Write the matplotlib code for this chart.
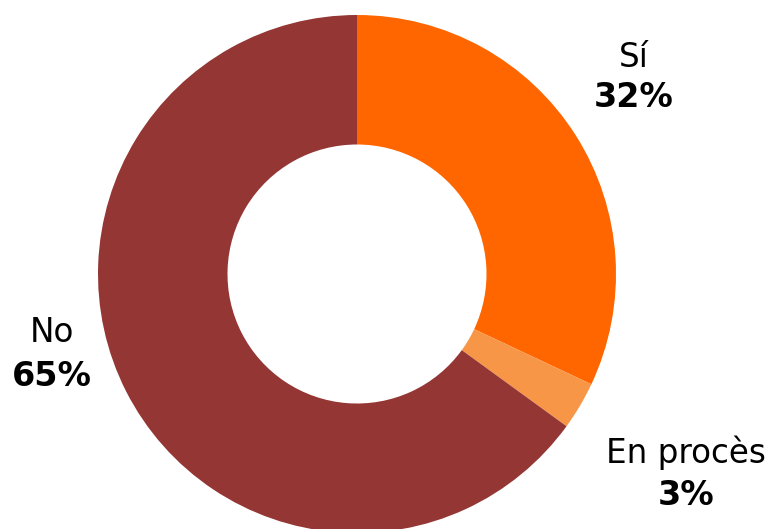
import matplotlib
matplotlib.use("Agg")
import matplotlib.pyplot as plt

labels = ["Sí", "En procès", "No"]
values = [32, 3, 65]
colors = ["#FF6600", "#F79646", "#943634"]
pct_labels = ["32%", "3%", "65%"]

W, H = 769, 529
fig = plt.figure(figsize=(W / 100, H / 100), dpi=100)
ax = fig.add_axes([0, 0, 1, 1])

cx, cy, r = 357, H - 274, 259
ax.pie(values, colors=colors, startangle=90, counterclock=False,
       center=(cx, cy), radius=r,
       wedgeprops=dict(width=r * 0.5, linewidth=0))
ax.set_xlim(0, W)
ax.set_ylim(0, H)
ax.set_aspect("equal")
ax.axis("off")

# label positions (x centre, baseline of name, baseline of percentage) in pixels from top
label_pos = [(634, 67, 107), (686, 463, 505), (52, 342, 386)]
for name, pct, (x, y1, y2) in zip(labels, pct_labels, label_pos):
    ax.text(x, H - y1, name, ha="center", va="baseline", fontsize=23.5, color="black")
    ax.text(x, H - y2, pct, ha="center", va="baseline", fontsize=24, fontweight="bold",
            color="black")

fig.savefig("out.png", dpi=100)
